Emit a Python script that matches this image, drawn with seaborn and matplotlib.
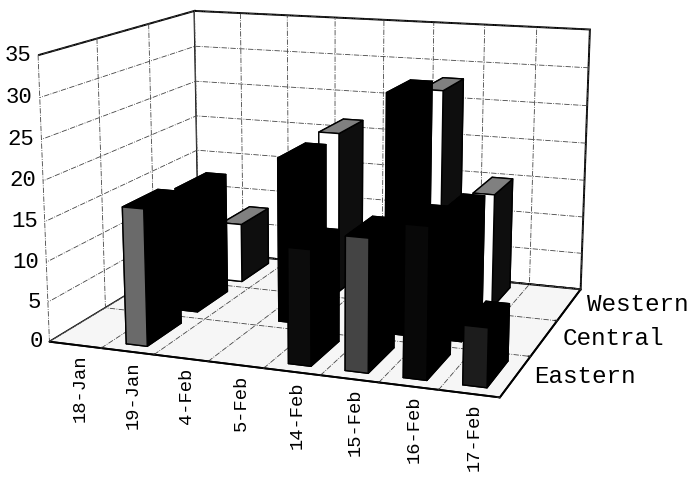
import numpy as np
import matplotlib
matplotlib.use('Agg')
import matplotlib.pyplot as plt
import seaborn as sns
from mpl_toolkits.mplot3d import proj3d

dates = ['18-Jan', '19-Jan', '4-Feb', '5-Feb', '14-Feb', '15-Feb', '16-Feb', '17-Feb']
regions = ['Eastern', 'Central', 'Western']
eastern = [0, 17, 0, 0, 14, 16, 18, 7]
central = [0, 16, 0, 21, 0, 30, 16, 0]
western = [0, 8, 0, 21.5, 0, 28, 15, 0]
eastern_front = ['#000000', '#6a6a6a', '#000000', '#000000', '#0c0c0c', '#444444', '#080808', '#1c1c1c']
zticks = [0, 5, 10, 15, 20, 25, 30, 35]

sns.set_theme(style='white')
plt.rcParams['font.family'] = ['Liberation Mono', 'DejaVu Sans Mono']

fig = plt.figure(figsize=(6.96, 4.93), dpi=100)
ax = fig.add_axes([-0.1, -0.006, 1.12, 1.246], projection='3d')
ax.set_proj_type('persp', focal_length=0.5)
ax.view_init(elev=13, azim=-70)
ax.set_box_aspect((2.24, 1.75, 1.4))

BLK = '#000000'
for row, vals in enumerate([eastern, central, western]):
    for i, v in enumerate(vals):
        if v > 0:
            # bottom, top, front, back, left, right
            if row == 0:
                cols = [BLK, BLK, eastern_front[i], BLK, BLK, BLK]
            elif row == 1:
                cols = [BLK] * 6
            else:
                cols = [BLK, '#808080', '#ffffff', BLK, BLK, '#0e0e0e']
            ax.bar3d(i + 0.3, row + 0.17, 0, 0.4, 0.66, v, color=cols,
                     edgecolor=BLK, linewidth=1.0, shade=False,
                     zsort='average')

ax.set_xlim(0, 8)
ax.set_ylim(0, 3)
ax.set_zlim(0, 35)
ax.set_xticks(range(9))
ax.set_yticks(range(4))
ax.set_zticks(zticks)
ax.set_xticklabels([])
ax.set_yticklabels([])
ax.set_zticklabels([])

ax.xaxis.set_pane_color('white')
ax.yaxis.set_pane_color('white')
ax.zaxis.set_pane_color('#f6f6f6')
for axis in [ax.xaxis, ax.yaxis, ax.zaxis]:
    axis._axinfo['grid'].update(color='#444444', linewidth=0.6, linestyle='-.')
    axis._axinfo['tick'].update(inward_factor=0, outward_factor=0.06)
    axis.pane.set_edgecolor(BLK)
    axis.pane.set_linewidth(1.4)
    axis.line.set_color(BLK)
ax.zaxis.line.set_visible(False)
ax.zaxis._axinfo['tick'].update(outward_factor=0)

fig.canvas.draw()


def label(x, y, z, s, dx=0, dy=0, **kw):
    px, py, _ = proj3d.proj_transform(x, y, z, ax.get_proj())
    ax.annotate(s, (px, py), xytext=(dx, dy), textcoords='offset points',
                color=BLK, **kw)


for i, d in enumerate(dates):
    label(i + 0.5, 0, 0, d, dx=4, dy=-7, rotation=90, ha='center', va='top', fontsize=13.5)
for j, r in enumerate(regions):
    label(8, j + 0.5, 0, r, dx=13, ha='left', va='center', fontsize=17.5)
for z in zticks:
    label(0, 0, z, str(z), dx=-5, ha='right', va='center', fontsize=16)

fig.savefig('out.png', dpi=100)
